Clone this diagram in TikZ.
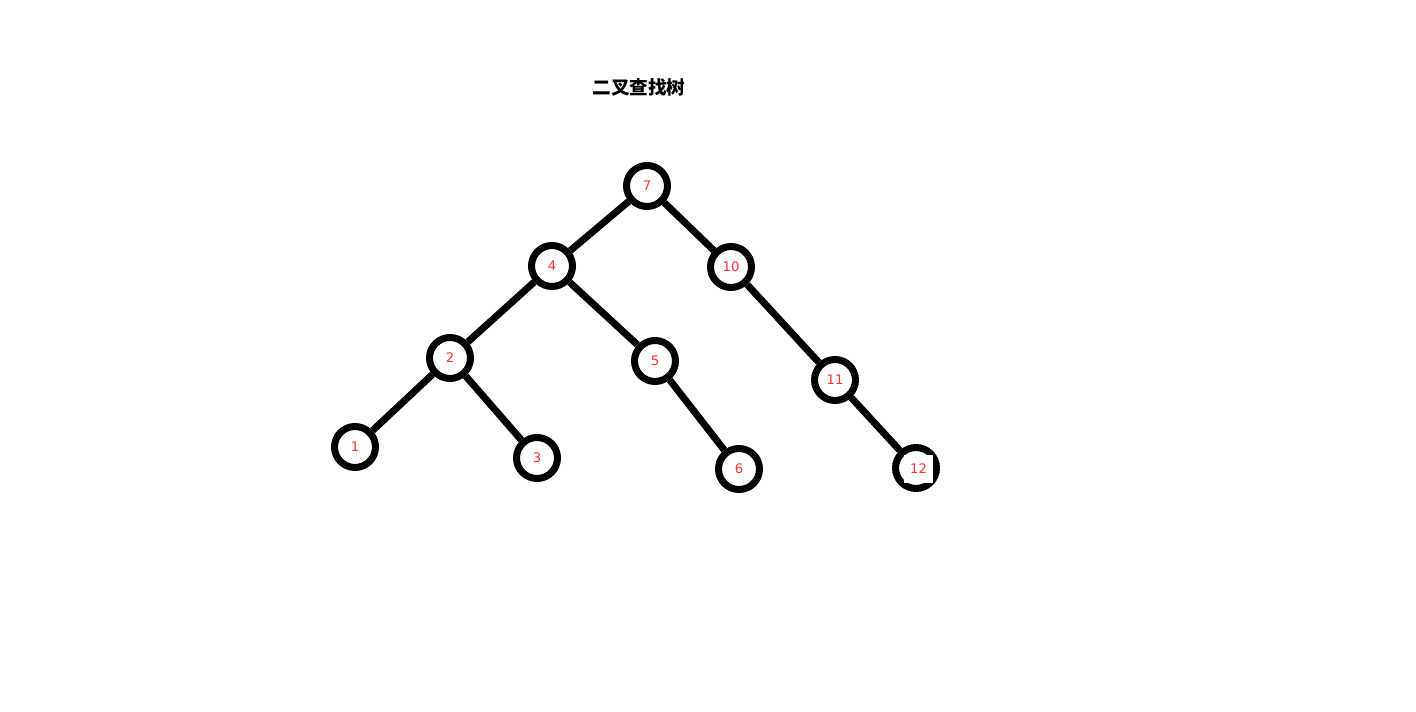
\documentclass[tikz,border=0pt]{standalone}
\usepackage{fontspec}
\setmainfont{DejaVu Sans}
\newfontfamily\cjkfont{Noto Sans CJK SC}
\usetikzlibrary{positioning}
\definecolor{keyred}{RGB}{255,51,51}

\begin{document}
\begin{tikzpicture}[
		x=0.02cm, y=-0.02cm,
		bstnode/.style ={circle,		draw=black,	fill=white,	line width=0.14cm,	inner sep=0pt,	minimum size=0.82cm,	text=keyred,	font=\fontsize{7.5pt}{8pt}\selectfont},
		bstedge/.style ={black,	line width=0.14cm},
		keybox/.style  ={rectangle,	fill=white,	inner sep=0pt,	minimum width=0.58cm,	minimum height=0.56cm,	text=keyred,	font=\fontsize{7.5pt}{8pt}\selectfont},
	]

	\useasboundingbox (0,0) rectangle (1416,712);

	% title
	\node (title) at (639,87) {\cjkfont\bfseries\fontsize{10.6pt}{12pt}\selectfont 二叉查找树};

	% nodes
	\foreach \k/\x/\y in {7/647/186, 4/552/266, 10/731/267, 2/450/358, 5/655/361,%
		11/835/380, 1/355/447, 3/537/458, 6/739/469}
			\node [bstnode] (key\k) at (\x,\y) {\k};
	\node [bstnode] (key12) at (916,468) {};

	% links
	\foreach \a/\b in {7/4, 7/10, 4/2, 4/5, 10/11, 2/1, 2/3, 5/6, 11/12}
		\draw [bstedge] (key\a) -- (key\b);

	% label of 12 sits on a white box
	\node [keybox] (box12) at (918.5,469) {12};

\end{tikzpicture}
\end{document}
